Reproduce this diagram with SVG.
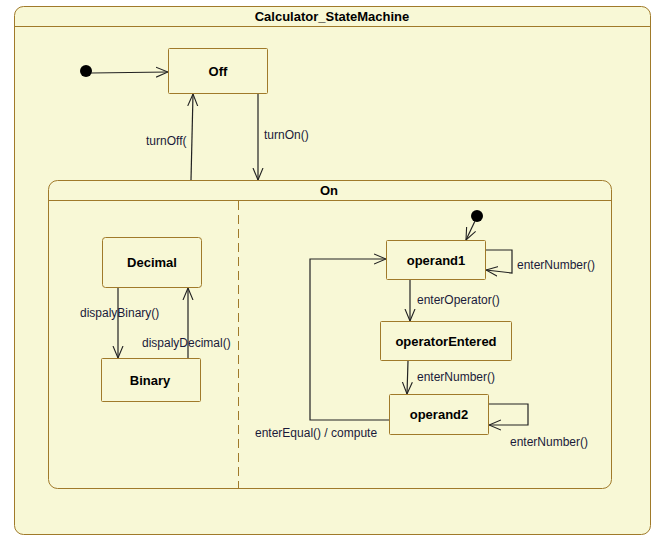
<svg xmlns="http://www.w3.org/2000/svg" width="659" height="540" viewBox="0 0 659 540">
<defs>
<style>
.frame{fill:#f8f8d6;stroke:#a07a2a;stroke-width:1}
.st{fill:#f8f8d6;stroke:#a07a2a;stroke-width:1}
.sep{fill:none;stroke:#a07a2a;stroke-width:1}
.dash{fill:none;stroke:#a07a2a;stroke-width:1;stroke-dasharray:9,5}
.b{font-family:"Liberation Sans",Arial,sans-serif;font-size:13px;font-weight:bold;fill:#000;text-anchor:middle}
.lbl{font-family:"Liberation Sans",Arial,sans-serif;font-size:12px;fill:#1a1a3a}
.e{fill:none;stroke:#222;stroke-width:1.2}
</style>
<marker id="arr" viewBox="0 0 12 12" refX="12" refY="6" markerWidth="12" markerHeight="12" markerUnits="userSpaceOnUse" orient="auto">
<path d="M0,1 L12,6 L0,11" fill="none" stroke="#222" stroke-width="1.1"/>
</marker>
</defs>
<rect width="659" height="540" fill="#ffffff"/>
<g id="Calculator_StateMachine">
<rect class="frame" x="14.5" y="6.5" width="636" height="528" rx="9"/>
<line class="sep" x1="14.5" y1="26.5" x2="650.5" y2="26.5"/>
<text class="b" x="332" y="21">Calculator_StateMachine</text>
</g>
<g id="initial1"><circle cx="86" cy="71" r="6" fill="#000"/></g>
<g id="Off">
<rect class="st" x="168.5" y="48.5" width="99" height="45" rx="1"/>
<text class="b" x="218" y="76">Off</text>
</g>
<g id="On">
<rect class="frame" x="48.5" y="180.5" width="563" height="308" rx="9"/>
<line class="sep" x1="48.5" y1="200.5" x2="611.5" y2="200.5"/>
<text class="b" x="329" y="195">On</text>
<line class="dash" x1="238.5" y1="201" x2="238.5" y2="489"/>
</g>
<g id="Decimal">
<rect class="st" x="102.5" y="237.5" width="99" height="50" rx="3"/>
<text class="b" x="152" y="267">Decimal</text>
</g>
<g id="Binary">
<rect class="st" x="101.5" y="358.5" width="99" height="43" rx="1"/>
<text class="b" x="150" y="385">Binary</text>
</g>
<g id="initial2"><circle cx="477" cy="216" r="6" fill="#000"/></g>
<g id="operand1">
<rect class="st" x="386.5" y="240.5" width="99" height="39" rx="1"/>
<text class="b" x="436" y="265">operand1</text>
</g>
<g id="operatorEntered">
<rect class="st" x="380.5" y="321.5" width="131" height="39" rx="1"/>
<text class="b" x="446" y="346">operatorEntered</text>
</g>
<g id="operand2">
<rect class="st" x="389.5" y="394.5" width="99" height="40" rx="1"/>
<text class="b" x="439" y="419">operand2</text>
</g>
<g id="connectors">
<path class="e" d="M91,73 L168,72" marker-end="url(#arr)"/>
<path class="e" d="M191,180 L193,94" marker-end="url(#arr)"/>
<text class="lbl" x="146" y="145">turnOff(</text>
<path class="e" d="M258,94 L258,180" marker-end="url(#arr)"/>
<text class="lbl" x="264" y="139">turnOn()</text>
<path class="e" d="M118,288 L118,358" marker-end="url(#arr)"/>
<text class="lbl" x="80" y="317">dispalyBinary()</text>
<path class="e" d="M188,358 L188,288" marker-end="url(#arr)"/>
<text class="lbl" x="142" y="347">dispalyDecimal()</text>
<path class="e" d="M475,221 L466,240" marker-end="url(#arr)"/>
<path class="e" d="M486,250 L512,250 L512,273 L486,270" marker-end="url(#arr)"/>
<text class="lbl" x="517" y="269">enterNumber()</text>
<path class="e" d="M389,420 L310,420 L310,259 L386,259" marker-end="url(#arr)"/>
<text class="lbl" x="255" y="437">enterEqual() / compute</text>
<path class="e" d="M410,280 L410,321" marker-end="url(#arr)"/>
<text class="lbl" x="417" y="304">enterOperator()</text>
<path class="e" d="M408,361 L407,394" marker-end="url(#arr)"/>
<text class="lbl" x="417" y="381">enterNumber()</text>
<path class="e" d="M489,404 L528,404 L528,425 L489,425" marker-end="url(#arr)"/>
<text class="lbl" x="510" y="446">enterNumber()</text>
</g>
</svg>
